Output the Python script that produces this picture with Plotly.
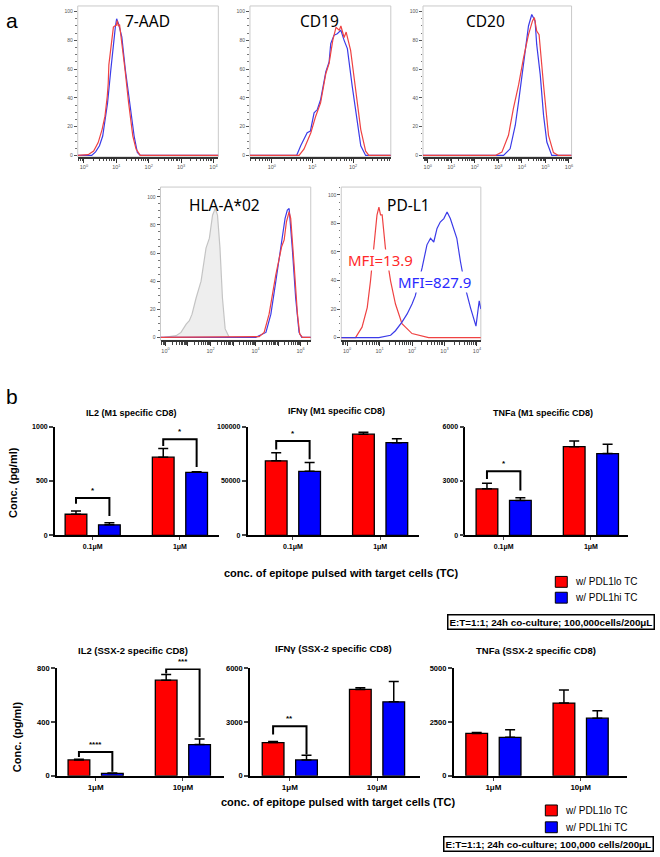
import plotly.graph_objects as go

W, H = 660, 857
ARIAL = "Liberation Sans, Arial, sans-serif"
SANS = "Noto Sans, Open Sans, sans-serif"
LRED, LBLUE = "#ef4242", "#3b3be8"
RED, BLUE = "#ff0000", "#0000ff"

# ---------------- panel a: flow histograms (x = log10 intensity, y = % of max) ----------------
aad_red_x = [-0.19, 0.05, 0.13, 0.30, 0.44, 0.56, 0.65, 0.72, 0.75, 0.77, 0.79, 0.86, 0.91, 0.95, 1.0, 1.03, 1.06, 1.10, 1.14, 1.18, 1.27, 1.38, 1.51, 1.61, 1.74, 4.15]
aad_red_y = [0, 0, 0.5, 3, 8.9, 18, 27.3, 41, 50, 63, 67.4, 77.8, 89.2, 90, 90.4, 93.8, 90, 91, 83.5, 79, 59.4, 36.5, 13.5, 4.4, 0, 0]
aad_blue_x = [-0.19, 0.24, 0.36, 0.48, 0.58, 0.73, 0.83, 0.91, 0.97, 1.01, 1.07, 1.12, 1.17, 1.28, 1.41, 1.55, 1.65, 1.74, 4.15]
aad_blue_y = [0, 0, 2.5, 6.7, 13.5, 36.5, 59.4, 77.8, 89.2, 95, 91.5, 86.9, 82.4, 59.4, 36.5, 13.5, 2, 0, 0]

cd19_red_x = [-0.54, 0.67, 0.79, 0.96, 1.08, 1.2, 1.33, 1.41, 1.5, 1.58, 1.66, 1.7, 1.78, 1.83, 1.94, 2.06, 2.19, 2.31, 2.39, 2.93]
cd19_red_y = [0, 0, 4.4, 15.8, 27.3, 36.5, 57, 64, 80, 89, 87, 90, 82, 85.8, 73, 48, 18, 3, 0, 0]
cd19_blue_x = [-0.54, 0.61, 0.71, 0.87, 0.95, 1.04, 1.12, 1.2, 1.33, 1.41, 1.45, 1.53, 1.61, 1.70, 1.78, 1.86, 1.98, 2.1, 2.19, 2.31, 2.93]
cd19_blue_y = [0, 0, 6.7, 15.8, 17, 29.6, 31.9, 38.7, 58.3, 65, 77.8, 83.5, 84.6, 87, 80, 74.3, 48, 22.7, 6.7, 0, 0]

cd20_red_x = [-0.2, 2.87, 3.15, 3.43, 3.64, 3.86, 4.07, 4.28, 4.45, 4.53, 4.63, 4.73, 4.92, 5.13, 5.34, 5.55, 6.11]
cd20_red_y = [0, 0, 2.3, 14, 32.7, 49, 67.8, 84, 93.5, 95.8, 86.5, 84, 49, 14, 2, 0, 0]
cd20_blue_x = [-0.2, 3.22, 3.5, 3.72, 3.86, 4.0, 4.14, 4.28, 4.42, 4.56, 4.63, 4.78, 4.92, 5.06, 5.27, 6.11]
cd20_blue_y = [0, 0, 4.6, 21, 37.4, 56, 72.5, 90, 98, 93.5, 77, 56, 28, 9.3, 0, 0]

hla_iso_x = [-0.05, 0.47, 0.69, 0.92, 1.06, 1.18, 1.36, 1.58, 1.8, 1.95, 2.09, 2.21, 2.31, 2.42, 2.53, 2.65, 2.83]
hla_iso_y = [0, 1.2, 3.5, 9.4, 11.8, 16.5, 28, 40, 63.5, 70.6, 87, 91.7, 87, 63.5, 28, 6, 0]
hla_red_x = [-0.22, 3.42, 4.16, 4.38, 4.6, 4.9, 5.04, 5.16, 5.27, 5.37, 5.49, 5.56, 5.71, 5.86, 5.96, 6.08, 6.45]
hla_red_y = [0, 0, 0.5, 3.5, 16.5, 44.7, 56.5, 64.7, 69.4, 82.3, 89.4, 84.7, 51.8, 16.5, 2.4, 0, 0]
hla_blue_x = [-0.22, 4.01, 4.46, 4.68, 4.9, 5.12, 5.31, 5.41, 5.49, 5.63, 5.78, 5.93, 6.05, 6.45]
hla_blue_y = [0, 0, 3.5, 16.5, 40, 63.5, 84.7, 90.6, 91.7, 63.5, 28, 3.5, 0, 0]

pdl1_red_x = [-0.18, 0.26, 0.46, 0.62, 0.72, 0.82, 0.92, 0.98, 1.03, 1.08, 1.18, 1.34, 1.49, 1.69, 2.0, 2.51, 4.12]
pdl1_red_y = [0, 0, 7.3, 21, 39.6, 62.7, 85.8, 91.5, 86, 86, 62.7, 39.6, 23.5, 9.7, 2.8, 0, 0]
pdl1_blue_x = [-0.18, 0.98, 1.34, 1.49, 1.69, 1.85, 2.0, 2.1, 2.31, 2.46, 2.57, 2.67, 2.77, 2.87, 2.98, 3.08, 3.18, 3.28, 3.38, 3.49, 3.64, 3.8, 3.97, 4.07, 4.12]
pdl1_blue_y = [0, 0, 1.6, 4.8, 10.8, 16.6, 23.5, 29.2, 48.8, 65, 69.6, 67, 76.5, 81, 83.4, 88, 83.4, 76.5, 69.6, 53.5, 35, 21, 8, 25.8, 20]
mfi_labels = ["MFI=13.9", "MFI=827.9"]

# ---------------- panel b: cytokine release (pg/ml), mean and SEM ----------------
m1_conc = ["0.1μM", "1μM"]
ssx_conc = ["1μM", "10μM"]

il2_m1_lo, il2_m1_lo_err = [194, 718], [30, 79]
il2_m1_hi, il2_m1_hi_err = [97, 579], [18, 6]
ifn_m1_lo, ifn_m1_lo_err = [68500, 93000], [7500, 1800]
ifn_m1_hi, ifn_m1_hi_err = [58800, 85200], [8200, 3600]
tnf_m1_lo, tnf_m1_lo_err = [2564, 4890], [306, 310]
tnf_m1_hi, tnf_m1_hi_err = [1926, 4510], [147, 510]

il2_ssx_lo, il2_ssx_lo_err = [118, 713], [5, 42]
il2_ssx_hi, il2_ssx_hi_err = [18, 233], [3, 42]
ifn_ssx_lo, ifn_ssx_lo_err = [1858, 4825], [56, 95]
ifn_ssx_hi, ifn_ssx_hi_err = [890, 4136], [263, 1136]
tnf_ssx_lo, tnf_ssx_lo_err = [1975, 3389], [46, 612]
tnf_ssx_hi, tnf_ssx_hi_err = [1791, 2684], [354, 350]

# significance brackets: (group, left end, top, right end, stars)
il2_m1_sig = [(0, 291, 343, 179, "*"), (1, 821, 882, 627, "*")]
ifn_m1_sig = [(0, 79000, 86600, 70000, "*")]
tnf_m1_sig = [(0, 3110, 3530, 2470, "*")]
il2_ssx_sig = [(0, 140, 178, 30, "****"), (1, 762, 796, 290, "***")]
ifn_ssx_sig = [(0, 2306, 2776, 1187, "**")]
tnf_ssx_sig = []


def dom_x(a, b):
    return [a / W, b / W]


def dom_y(top, bottom):
    return [1 - bottom / H, 1 - top / H]


def ids(i):
    return ("x", "y") if i == 1 else (f"x{i}", f"y{i}")


def note(text, x, y, size, family=ARIAL, color="black", bold=False, xanchor="center", **kw):
    fig.add_annotation(text=text, x=x / W, y=1 - y / H, xref="paper", yref="paper",
                       xanchor=xanchor, yanchor="middle", showarrow=False,
                       font=dict(size=size, family=family, color=color,
                                 weight="bold" if bold else "normal"), **kw)


fig = go.Figure()
axes = {}

hists = [
    dict(title="7-AAD", tx=148, ty=17, box=(78, 219, 2, 154.5), xr=[-0.19, 4.15], yr=[-1.0, 103.9],
         ticks=[0, 1, 2, 3, 4], lab=[0, 1, 2, 3, 4],
         curves=[(aad_blue_x, aad_blue_y, LBLUE, False), (aad_red_x, aad_red_y, LRED, False)]),
    dict(title="CD19", tx=320, ty=17, box=(250.7, 392, 2, 154.5), xr=[-0.54, 2.93], yr=[-1.0, 103.9],
         ticks=[0, 1, 2], lab=[0, 1, 2],
         curves=[(cd19_blue_x, cd19_blue_y, LBLUE, False), (cd19_red_x, cd19_red_y, LRED, False)]),
    dict(title="CD20", tx=487, ty=17, box=(424.3, 573.3, 2, 154.5), xr=[-0.2, 6.11], yr=[-1.0, 103.9],
         ticks=[0, 1, 2, 3, 4, 5, 6], lab=[0, 1, 2, 3, 4, 5, 6],
         curves=[(cd20_blue_x, cd20_blue_y, LBLUE, False), (cd20_red_x, cd20_red_y, LRED, False)]),
    dict(title="HLA-A*02", tx=225, ty=203, box=(161, 311.7, 185, 340), xr=[-0.22, 6.45], yr=[-2.2, 107],
         ticks=[0, 1, 2, 3, 4, 5, 6], lab=[0, 2, 4, 6],
         curves=[(hla_iso_x, hla_iso_y, "#c4c4c4", True), (hla_blue_x, hla_blue_y, LBLUE, False),
                 (hla_red_x, hla_red_y, LRED, False)]),
    dict(title="PD-L1", tx=410, ty=203, box=(342.3, 482.3, 185, 340), xr=[-0.18, 4.12], yr=[-2.0, 105.5],
         ticks=[0, 1, 2, 3, 4], lab=[0, 1, 2, 3, 4],
         curves=[(pdl1_red_x, pdl1_red_y, LRED, False), (pdl1_blue_x, pdl1_blue_y, LBLUE, False)]),
]

minor_log = [k + v for k in range(-1, 7) for v in (0.301, 0.477, 0.602, 0.699, 0.778, 0.845, 0.903, 0.954)]

for i, h in enumerate(hists, start=1):
    xid, yid = ids(i)
    for xs, ys, col, filled in h["curves"]:
        fig.add_trace(go.Scatter(x=xs, y=ys, mode="lines", line=dict(color=col, width=1.2),
                                 fill="tozeroy" if filled else None, fillcolor="#eeeeee",
                                 xaxis=xid, yaxis=yid, showlegend=False, hoverinfo="skip"))
    x0, x1, t, b = h["box"]
    axes["xaxis" if i == 1 else f"xaxis{i}"] = dict(
        domain=dom_x(x0, x1), anchor=yid, range=h["xr"], showgrid=False, zeroline=False,
        showline=True, linecolor="#333", linewidth=1.5, ticks="outside", ticklen=4, tickwidth=1.2,
        tickcolor="#333", tickvals=h["ticks"],
        ticktext=[f"10<sup>{v}</sup>" if v in h["lab"] else "" for v in h["ticks"]],
        tickfont=dict(size=5.5, color="#555", family=ARIAL),
        minor=dict(tickvals=minor_log, ticks="outside", ticklen=2.5, tickcolor="#444", tickwidth=1))
    axes["yaxis" if i == 1 else f"yaxis{i}"] = dict(
        domain=dom_y(t, b), anchor=xid, range=h["yr"], showgrid=False, zeroline=False,
        showline=False, ticks="outside", ticklen=3, tickcolor="#555", tickwidth=1,
        tickvals=[0, 20, 40, 60, 80, 100], tickfont=dict(size=5, color="#555", family=ARIAL),
        minor=dict(dtick=5, tick0=0, ticks="outside", ticklen=1.5, tickcolor="#777"))
    fig.add_shape(type="rect", xref=f"{xid} domain", yref=f"{yid} domain", x0=0, x1=1, y0=0, y1=1,
                  line=dict(color="#c9c9c9", width=1), layer="below")
    note(h["title"], h["tx"], h["ty"], 15.5, family=SANS)

note(mfi_labels[0], 382, 259, 15, family=SANS, color="#ff2a2a", bgcolor="white", borderpad=0)
note(mfi_labels[1], 436, 281, 15, family=SANS, color="#2a2aff", bgcolor="white", borderpad=0)
note("a", 12, 17, 21)
note("b", 12, 397, 21)

# ---------------- bar charts ----------------
bars = [
    dict(title="IL2 (M1 specific CD8)", tx=132, ty=413, cats=m1_conc, lo=il2_m1_lo, loe=il2_m1_lo_err,
         hi=il2_m1_hi, hie=il2_m1_hi_err, sig=il2_m1_sig, yr=[0, 1000], yt=[0, 500, 1000],
         ax=55, xr=[-0.434, 1.45], row=1),
    dict(title="IFNγ (M1 specific CD8)", tx=338, ty=411, cats=m1_conc, lo=ifn_m1_lo, loe=ifn_m1_lo_err,
         hi=ifn_m1_hi, hie=ifn_m1_hi_err, sig=ifn_m1_sig, yr=[0, 100000], yt=[0, 50000, 100000],
         ax=248.3, xr=[-0.52, 1.44], row=1),
    dict(title="TNFa (M1 specific CD8)", tx=545, ty=413, cats=m1_conc, lo=tnf_m1_lo, loe=tnf_m1_lo_err,
         hi=tnf_m1_hi, hie=tnf_m1_hi_err, sig=tnf_m1_sig, yr=[0, 6000], yt=[0, 3000, 6000],
         ax=466.7, xr=[-0.44, 1.43], row=1),
    dict(title="IL2 (SSX-2 specific CD8)", tx=133, ty=653, cats=ssx_conc, lo=il2_ssx_lo, loe=il2_ssx_lo_err,
         hi=il2_ssx_hi, hie=il2_ssx_hi_err, sig=il2_ssx_sig, yr=[0, 800], yt=[0, 400, 800],
         ax=57, xr=[-0.445, 1.47], row=2),
    dict(title="IFNγ (SSX-2 specific CD8)", tx=335, ty=651, cats=ssx_conc, lo=ifn_ssx_lo, loe=ifn_ssx_lo_err,
         hi=ifn_ssx_hi, hie=ifn_ssx_hi_err, sig=ifn_ssx_sig, yr=[0, 6000], yt=[0, 3000, 6000],
         ax=250.7, xr=[-0.457, 1.49], row=2),
    dict(title="TNFa (SSX-2 specific CD8)", tx=538, ty=653, cats=ssx_conc, lo=tnf_ssx_lo, loe=tnf_ssx_lo_err,
         hi=tnf_ssx_hi, hie=tnf_ssx_hi_err, sig=tnf_ssx_sig, yr=[0, 5000], yt=[0, 2500, 5000],
         ax=455, xr=[-0.456, 1.53], row=2),
]

UNIT = 87.5
BARGAP, GROUPGAP = 0.234, 0.35
half = (1 - BARGAP) / 4

for j, c in enumerate(bars, start=len(hists) + 1):
    xid, yid = ids(j)
    r2 = c["row"] == 2
    for vals, errs, col in ((c["lo"], c["loe"], RED), (c["hi"], c["hie"], BLUE)):
        fig.add_trace(go.Bar(x=[0, 1], y=vals, marker=dict(color=col, line=dict(color="black", width=1.3)),
                             error_y=dict(type="data", array=errs, arrayminus=[0] * len(errs), symmetric=False,
                                          color="black", thickness=1.5, width=5),
                             xaxis=xid, yaxis=yid, showlegend=False, hoverinfo="skip"))
    width = (c["xr"][1] - c["xr"][0]) * UNIT
    top, bottom = (671.5, 780) if r2 else (427, 537)
    axes[f"xaxis{j}"] = dict(
        domain=dom_x(c["ax"], c["ax"] + width), anchor=yid, range=c["xr"], showgrid=False, zeroline=False,
        showline=True, linecolor="black", linewidth=1.5, ticks="outside", ticklen=3, tickwidth=1.2,
        tickvals=[0, 1], ticktext=c["cats"],
        tickfont=dict(size=8 if r2 else 7, family=ARIAL, color="black", weight="bold"))
    axes[f"yaxis{j}"] = dict(
        domain=dom_y(top, bottom), anchor=xid, range=c["yr"], showgrid=False, zeroline=False,
        showline=True, linecolor="black", linewidth=1.5, ticks="outside", ticklen=4, tickwidth=1.5,
        tickvals=c["yt"], ticktext=[str(v) for v in c["yt"]],
        tickfont=dict(size=7.5 if r2 else 7, family=ARIAL, color="black", weight="bold"))
    for g, left, ytop, right, stars in c["sig"]:
        xa, xb = g - half, g + half
        fig.add_shape(type="path", xref=xid, yref=yid,
                      path=f"M {xa},{left} L {xa},{ytop} L {xb},{ytop} L {xb},{right}",
                      line=dict(color="black", width=2))
        fig.add_annotation(x=g, y=ytop, xref=xid, yref=yid, text=stars, showarrow=False, yanchor="bottom",
                           yshift=1, font=dict(size=8, family=ARIAL, color="black", weight="bold"))
    note(c["title"], c["tx"], c["ty"], 9.5 if r2 else 9, bold=True)

note("Conc. (pg/ml)", 13, 483, 11, bold=True, textangle=-90)
note("Conc. (pg/ml)", 17, 740, 11, bold=True, textangle=-90)

# captions, legends and condition boxes
rows = [
    dict(cap_y=575, cap_x=342, sq_x=557, leg_y=(584, 600), box=(443, 658, 624.5),
         txt="E:T=1:1; 24h co-culture; 100,000cells/200μL"),
    dict(cap_y=806, cap_x=339, sq_x=547, leg_y=(815, 832), box=(431, 657, 849),
         txt="E:T=1:1; 24h co-culture; 100,000 cells/200μL"),
]
for r in rows:
    note("conc. of epitope pulsed with target cells (TC)", r["cap_x"], r["cap_y"], 11, bold=True)
    for yy, col, lab in zip(r["leg_y"], (RED, BLUE), ("w/ PDL1lo TC", "w/ PDL1hi TC")):
        fig.add_shape(type="rect", xref="paper", yref="paper", x0=r["sq_x"] / W, x1=(r["sq_x"] + 12) / W,
                      y0=1 - (yy + 5.5) / H, y1=1 - (yy - 5.5) / H, fillcolor=col, line=dict(color="black", width=1))
        note(lab, r["sq_x"] + 18, yy, 10, xanchor="left")
    bx0, bx1, by = r["box"]
    note(r["txt"], bx1 - 1, by, 9.8, bold=True, xanchor="right",
         bordercolor="black", borderwidth=1.5, borderpad=1)

fig.update_layout(width=W, height=H, margin=dict(l=0, r=0, t=0, b=0), plot_bgcolor="white",
                  paper_bgcolor="white", barmode="group", bargap=BARGAP, bargroupgap=GROUPGAP,
                  showlegend=False, **axes)
fig.write_html("out.html", config={"displayModeBar": False},
               post_script="document.body.style.margin='0';document.body.style.overflow='hidden';")
